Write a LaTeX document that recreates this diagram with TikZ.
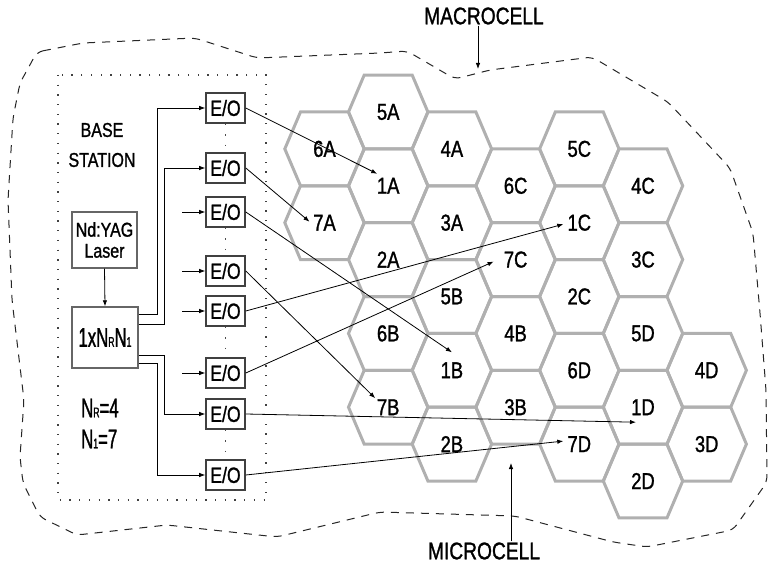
\documentclass[tikz,border=0pt]{standalone}
\usepackage{fontspec}
\setmainfont[FakeStretch=0.8,FakeBold=1.2]{Liberation Sans}
\newfontfamily\narrowfont[FakeStretch=0.62,FakeBold=1.2]{Liberation Sans}
\usetikzlibrary{arrows.meta,calc}
\tikzset{
  hexline/.style={draw=gray!62, line width=3pt, line join=miter},
  hexlabel/.style={font=\fontsize{23}{23}\selectfont, inner sep=1pt},
  eobox/.style={draw=black!75, line width=1.6pt, minimum width=39pt, minimum height=30pt, inner sep=0pt, font=\fontsize{22}{22}\selectfont},
  unitbox/.style={draw=black!60, line width=1.4pt, inner sep=0pt, align=center},
  link/.style={draw=black, line width=0.8pt, -{Latex[length=6pt,width=4.5pt]}},
  eodots/.style={draw=black!70, line width=1.4pt, dash pattern=on 1.4pt off 9pt},
  stationframe/.style={draw=black!75, line width=1.3pt, dash pattern=on 1.3pt off 8.4pt},
  macroline/.style={draw=black!85, line width=1pt, dash pattern=on 8pt off 7pt, rounded corners=6pt},
  biglabel/.style={font=\fontsize{24}{24}\selectfont, inner sep=1pt}
}
\begin{document}
\begin{tikzpicture}[x=1pt,y=-1pt]
\useasboundingbox (0,0) rectangle (769,567);

% macrocell outline
\draw[macroline] (37,52) -- (83,43) -- (195,38) -- (257,58) -- (380,53) -- (407,51)
  -- (455,79) -- (490,70) -- (592,57) -- (668,102) -- (730,168) -- (753,233)
  -- (760,313) -- (766,390) -- (767,482) -- (733,530) -- (647,547) -- (613,542)
  -- (515,516) -- (380,512) -- (277,537) -- (240,533) -- (167,525) -- (77,535)
  -- (40,517) -- (23,483) -- (20,457) -- (24,400) -- (12,300) -- (8,200)
  -- (13,118) -- (20,83) -- cycle;

% hexagonal microcells
\foreach \c/\r/\lab in {1/0/5A,0/1/6A,2/1/4A,1/2/1A,0/3/7A,2/3/3A,1/4/2A,
                        2/5/5B,1/6/6B,3/6/4B,2/7/1B,1/8/7B,3/8/3B,2/9/2B,
                        4/1/5C,3/2/6C,5/2/4C,4/3/1C,3/4/7C,5/4/3C,4/5/2C,
                        5/6/5D,4/7/6D,6/7/4D,5/8/1D,4/9/7D,6/9/3D,5/10/2D}{
  \pgfmathsetmacro\hx{324.5+63.7*\c}
  \pgfmathsetmacro\hy{112+36.9*\r}
  \draw[hexline] (\hx-39.7,\hy) -- (\hx-24,\hy-36.9) -- (\hx+24,\hy-36.9)
     -- (\hx+39.7,\hy) -- (\hx+24,\hy+36.9) -- (\hx-24,\hy+36.9) -- cycle;
  \node[hexlabel] (h\lab) at (\hx,\hy) {\lab};
}

% base station frame
\draw[stationframe] (58,75) rectangle (266,500);
\node[font=\fontsize{20}{30}\selectfont, align=center] (bs) at (102,145) {BASE\\STATION};

\node[unitbox, minimum width=65pt, minimum height=56pt,
      font=\fontsize{20}{21}\selectfont] (laser) at (104.5,240) {Nd:YAG\\Laser};
\node[unitbox, minimum width=66pt, minimum height=61pt,
      font=\narrowfont\fontsize{27}{27}\selectfont] (split) at (105,337.5)
      {1xN{\fontsize{14}{14}\selectfont R}N{\fontsize{14}{14}\selectfont 1}};
\node[anchor=west, inner sep=0pt, font=\narrowfont\fontsize{27}{27}\selectfont] (nr) at (81,408)
      {N{\fontsize{14}{14}\selectfont R}=4};
\node[anchor=west, inner sep=0pt, font=\narrowfont\fontsize{27}{27}\selectfont] (ni) at (81,439)
      {N{\fontsize{14}{14}\selectfont 1}=7};

% E/O converters
\foreach \i/\yy in {1/108,2/168,3/212,4/271,5/311,6/373,7/414,8/475}{
  \node[eobox] (eo\i) at (225.5,\yy) {E/O};
}
\draw[eodots] (eo1.south) -- (eo2.north);
\draw[eodots] (eo3.south) -- (eo4.north);
\draw[eodots] (eo5.south) -- (eo6.north);
\draw[eodots] (eo7.south) -- (eo8.north);

% laser to splitter
\draw[link] (laser.south) -- (split.north);

% splitter outputs
\draw[link] ([yshift=23.5pt]split.east) -- ++(19,0) |- (eo1.west);
\draw[link] ([yshift=13.5pt]split.east) -- ++(26,0) |- (eo2.west);
\draw[link] ([yshift=-17.5pt]split.east) -- ++(26,0) |- (eo7.west);
\draw[link] ([yshift=-25.5pt]split.east) -- ++(19,0) |- (eo8.west);
\foreach \i in {3,4,5,6}{
  \draw[link] ([xshift=-23pt]eo\i.west) -- (eo\i.west);
}

% E/O to microcells
\draw[link] (eo1.east) -- ([shift={(-11,-12)}]h1A.center);
\draw[link] (eo2.east) -- ([shift={(-15,-1)}]h7A.center);
\draw[link] (eo3.east) -- ([shift={(0,-18)}]h1B.center);
\draw[link] (eo4.east) -- ([shift={(-13,-9)}]h7B.center);
\draw[link] (eo5.east) -- ([shift={(-16,1.5)}]h1C.center);
\draw[link] (eo6.east) -- ([shift={(-22,2)}]h7C.center);
\draw[link] (eo7.east) -- ([shift={(-7,15)}]h1D.center);
\draw[link] (eo8.east) -- ([shift={(-16,-3)}]h7D.center);

% macro / micro labels
\node[biglabel] (mac) at (484,16) {MACROCELL};
\coordinate (macpt) at (478,69);
\draw[link] (mac.south -| macpt) -- (macpt);
\node[biglabel] (mic) at (484,551) {MICROCELL};
\coordinate (micpt) at (511,463);
\draw[link] (mic.north -| micpt) -- (micpt);
\end{tikzpicture}
\end{document}
